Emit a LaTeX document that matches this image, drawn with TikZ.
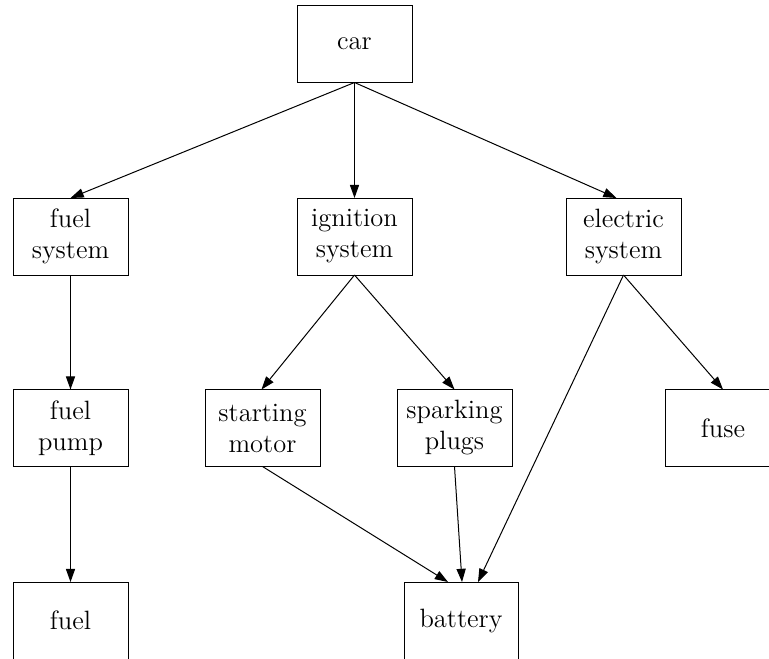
\documentclass[tikz,border=0pt]{standalone}
\usetikzlibrary{arrows.meta}
\begin{document}
\begin{tikzpicture}[x=0.5pt,y=-0.5pt,
  box/.style={draw,line width=0.5pt,rectangle,inner sep=0pt,outer sep=0pt,
    minimum width=57.5pt,minimum height=38.5pt,align=center,
    font=\fontsize{13.25}{15.5}\selectfont},
  edge/.style={line width=0.5pt,-{Triangle[length=6.6pt,width=4.6pt]}}]
\useasboundingbox (0,0) rectangle (769,658);
\clip (0,0) rectangle (769,658);
\node[box] (car) at (354.5,44) {car};
\node[box] (fuelsys) at (70.5,236.5) {fuel\\system};
\node[box] (ign) at (354.5,236.5) {ignition\\system};
\node[box] (elec) at (623.5,236.5) {electric\\system};
\node[box] (pump) at (70.5,428) {fuel\\pump};
\node[box] (start) at (262.5,428) {starting\\motor};
\node[box] (plugs) at (454.5,428) {sparking\\plugs};
\node[box,minimum width=58pt] (fuse) at (723,428) {fuse};
\node[box] (fuel) at (70.5,620.5) {fuel};
\node[box,minimum width=57pt] (bat) at (461,620.5) {battery};
\draw[edge] (car.south) -- (fuelsys.north);
\draw[edge] (car.south) -- (ign.north);
\draw[edge] (car.south) -- ([xshift=-3.5pt]elec.north);
\draw[edge] (fuelsys.south) -- (pump.north);
\draw[edge] (pump.south) -- (fuel.north);
\draw[edge] (ign.south) -- ([xshift=-0.5pt]start.north);
\draw[edge] (ign.south) -- (plugs.north);
\draw[edge] (elec.south) -- (fuse.north);
\draw[edge] (elec.south) -- ([xshift=8.5pt]bat.north);
\draw[edge] (start.south) -- ([xshift=-6.5pt]bat.north);
\draw[edge] (plugs.south) -- ([xshift=0.5pt]bat.north);
\end{tikzpicture}
\end{document}
